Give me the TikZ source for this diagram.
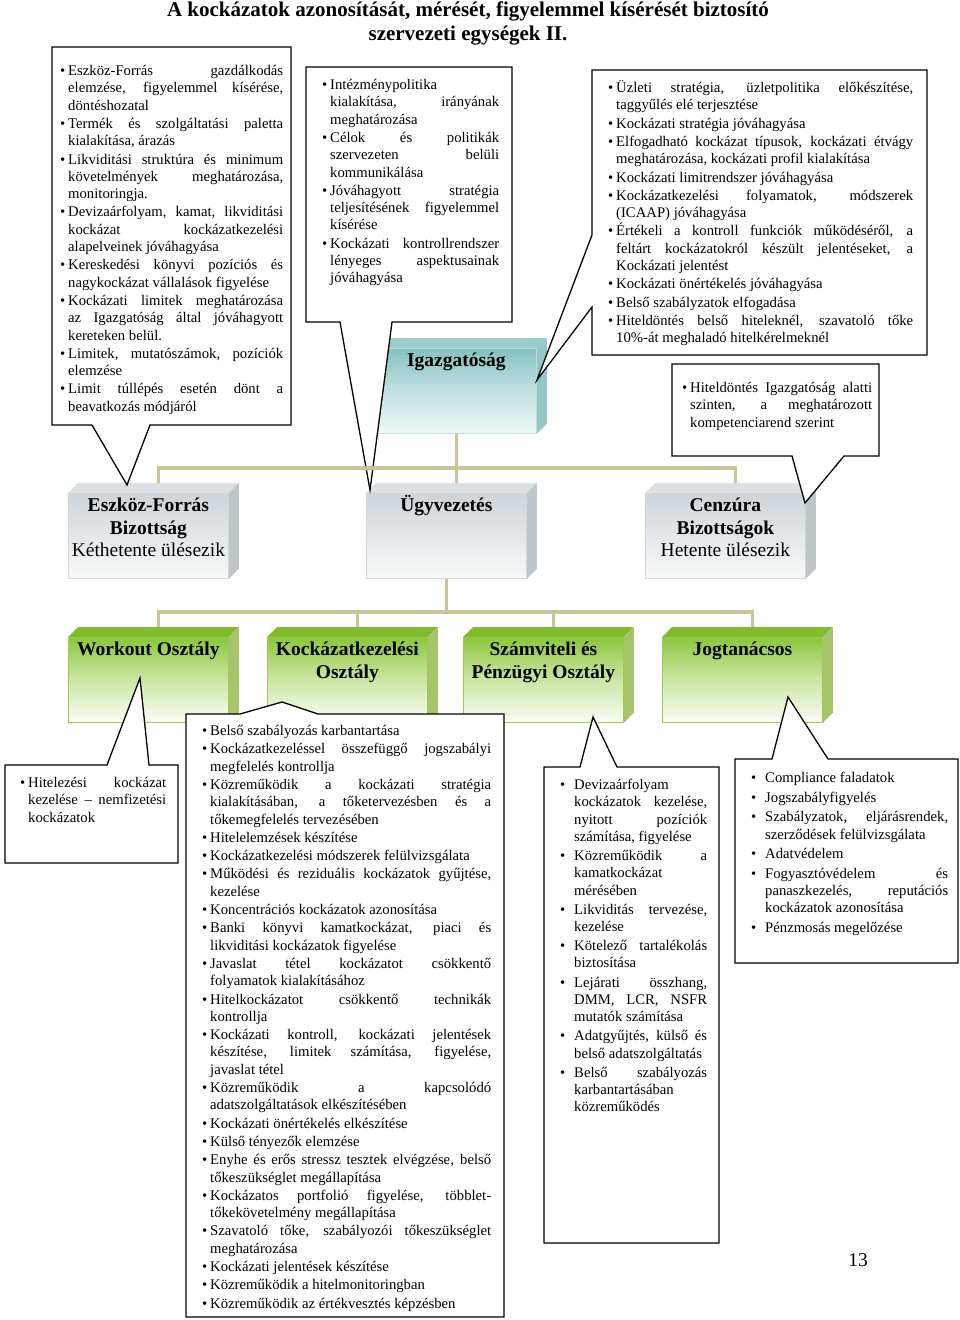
\documentclass[tikz,border=0pt]{standalone}
\usepackage{fontspec}
\setmainfont{Liberation Serif}
\usepackage{xcolor}
\usetikzlibrary{calc}

\definecolor{connline}{HTML}{C8C59A}
\definecolor{grayT}{HTML}{CED4D8}
\definecolor{grayM}{HTML}{E4E7EA}
\definecolor{grayB}{HTML}{F8F9F9}
\definecolor{grayTop}{HTML}{DCE0E3}
\definecolor{graySide}{HTML}{BFC6CA}
\definecolor{grayEdge}{HTML}{D2D7DA}
\definecolor{greenT}{HTML}{8CC63E}
\definecolor{greenM}{HTML}{CCE6A4}
\definecolor{greenB}{HTML}{FBFDF6}
\definecolor{greenTop}{HTML}{80BC2C}
\definecolor{greenSide}{HTML}{A6C46A}
\definecolor{greenEdge}{HTML}{9DCC4E}
\definecolor{tealT}{HTML}{85C1C1}
\definecolor{tealM}{HTML}{C2E1E1}
\definecolor{tealB}{HTML}{EFF8F8}
\definecolor{tealTop}{HTML}{9CCDCD}
\definecolor{tealSide}{HTML}{95C7C7}
\definecolor{tealEdge}{HTML}{BEDFDF}

\newcommand\notefont{\fontsize{14.7}{17.3}\selectfont}
\newcommand\labelfont{\fontsize{19.5}{22.4}\selectfont}
\newcommand\titlefont{\fontsize{21}{24}\selectfont\bfseries}
\newcommand\boxlabel[1]{\parbox[t][82pt][t]{160pt}{\centering\rule{0pt}{17pt}#1}}

% bullet list: left margin, label sep, item sep
\newenvironment{pontok}[3]{%
  \begin{list}{\textbullet}{\setlength{\leftmargin}{#1}\setlength{\labelsep}{#2}%
    \setlength{\labelwidth}{\dimexpr#1-#2\relax}\setlength{\itemsep}{#3}%
    \setlength{\topsep}{0pt}\setlength{\parsep}{0pt}\setlength{\partopsep}{0pt}}}%
  {\end{list}}

\tolerance=10000
\hbadness=10000
\hyphenpenalty=10000
\exhyphenpenalty=10000

\begin{document}
\begin{tikzpicture}[x=1pt, y=-1pt,
    unit/.style={anchor=north west, minimum width=160pt, minimum height=85pt,
      inner xsep=0pt, inner ysep=1.5pt, font=\labelfont, line width=0.8pt},
    graybox/.style={unit, draw=grayEdge, top color=grayT, bottom color=grayB, middle color=grayM},
    greenbox/.style={unit, draw=greenEdge, top color=greenT, bottom color=greenB, middle color=greenM},
    tealbox/.style={unit, draw=tealEdge, top color=tealT, bottom color=tealB, middle color=tealM},
    conn/.style={draw=connline, line width=3.5pt},
    callout/.style={draw=black, fill=white, line width=1.3pt},
    note/.style={anchor=north west, inner sep=0pt, font=\notefont, text width=#1, align=justify}]

\useasboundingbox[fill=white] (0,0) rectangle (960,1320);

\node[font=\titlefont, align=center] (title) at (468,23)
  {A kockázatok azonosítását, mérését, figyelemmel kísérését biztosító\\szervezeti egységek II.};

% szervezeti egysegek
\node[tealbox] (igaz) at (376,348) {\boxlabel{\textbf{Igazgatóság}}};

\node[graybox] (eszb) at (68,493) {\boxlabel{\textbf{Eszköz-Forrás}\\\textbf{Bizottság}\\Kéthetente ülésezik}};
\node[graybox] (ugyv) at (366,493) {\boxlabel{\textbf{Ügyvezetés}}};
\node[graybox] (cenz) at (645,493) {\boxlabel{\textbf{Cenzúra}\\\textbf{Bizottságok}\\Hetente ülésezik}};

\node[greenbox] (workout) at (68,637) {\boxlabel{\textbf{Workout Osztály}}};
\node[greenbox] (kockoszt) at (267,637) {\boxlabel{\textbf{Kockázatkezelési}\\\textbf{Osztály}}};
\node[greenbox] (szamv) at (463,637) {\boxlabel{\textbf{Számviteli és}\\\textbf{Pénzügyi Osztály}}};
\node[greenbox] (jogt) at (662,637) {\boxlabel{\textbf{Jogtanácsos}}};

% teto es oldallap
\foreach \n/\c in {igaz/teal, eszb/gray, ugyv/gray, cenz/gray,
                   workout/green, kockoszt/green, szamv/green, jogt/green} {
  \fill[\c Top] (\n.north west) -- ++(10,-10) -- ($(\n.north east)+(10,-10)$) -- (\n.north east) -- cycle;
  \fill[\c Side] (\n.north east) -- ++(10,-10) -- ($(\n.south east)+(10,-10)$) -- (\n.south east) -- cycle;
  \coordinate (\n-top) at ($(\n.north)+(10,-10)$);
}

% callout dobozok
\draw[callout] (52,47) -- (291,47) -- (291,425) -- (150,425) -- (127,485) -- (92,425) -- (52,425) -- cycle;
\node[note=225pt] (eszbnote) at (58,58) {\begin{pontok}{10pt}{3pt}{1pt}
  \item Eszköz-Forrás gazdálkodás\linebreak elemzése, figyelemmel kísérése,\linebreak döntéshozatal
  \item Termék és szolgáltatási paletta\linebreak kialakítása, árazás
  \item Likviditási struktúra és minimum\linebreak követelmények meghatározása,\linebreak monitoringja.
  \item Devizaárfolyam, kamat, likviditási\linebreak kockázat kockázatkezelési\linebreak alapelveinek jóváhagyása
  \item Kereskedési könyvi pozíciós és\linebreak nagykockázat vállalások figyelése
  \item Kockázati limitek meghatározása\linebreak az Igazgatóság által jóváhagyott\linebreak kereteken belül.
  \item Limitek, mutatószámok, pozíciók\linebreak elemzése
  \item Limit túllépés esetén dönt a\linebreak beavatkozás módjáról
\end{pontok}};

\draw[callout] (306,67) -- (512,67) -- (512,322) -- (392,322) -- (370,490) -- (340,322) -- (306,322) -- cycle;
\node[note=179pt] (igaznote) at (320,72) {\begin{pontok}{10pt}{3pt}{1pt}
  \item Intézménypolitika\linebreak kialakítása, irányának\linebreak meghatározása
  \item Célok és politikák\linebreak szervezeten belüli\linebreak kommunikálása
  \item Jóváhagyott stratégia\linebreak teljesítésének figyelemmel\linebreak kísérése
  \item Kockázati kontrollrendszer\linebreak lényeges aspektusainak\linebreak jóváhagyása
\end{pontok}};

\draw[callout] (592,70) -- (927,70) -- (927,355) -- (592,355) -- (592,307) -- (537,380) -- (592,235) -- cycle;
\node[note=307pt] (uzletnote) at (606,75) {\begin{pontok}{10pt}{3pt}{1pt}
  \item Üzleti stratégia, üzletpolitika előkészítése,\linebreak taggyűlés elé terjesztése
  \item Kockázati stratégia jóváhagyása
  \item Elfogadható kockázat típusok, kockázati étvágy\linebreak meghatározása, kockázati profil kialakítása
  \item Kockázati limitrendszer jóváhagyása
  \item Kockázatkezelési folyamatok, módszerek\linebreak (ICAAP) jóváhagyása
  \item Értékeli a kontroll funkciók működéséről, a\linebreak feltárt kockázatokról készült jelentéseket, a\linebreak Kockázati jelentést
  \item Kockázati önértékelés jóváhagyása
  \item Belső szabályzatok elfogadása
  \item Hiteldöntés belső hiteleknél, szavatoló tőke\linebreak 10\%-át meghaladó hitelkérelmeknél
\end{pontok}};

\draw[callout] (672,364) -- (879,364) -- (879,456) -- (844,456) -- (805,503) -- (792,456) -- (672,456) -- cycle;
\node[note=192pt] (hitnote) at (680,375) {\begin{pontok}{10pt}{3pt}{1pt}
  \item Hiteldöntés Igazgatóság alatti\linebreak szinten, a meghatározott\linebreak kompetenciarend szerint
\end{pontok}};

\draw[callout] (5,765) -- (107,765) -- (140,678) -- (149,765) -- (178,765) -- (178,863) -- (5,863) -- cycle;
\node[note=149pt] (workoutnote) at (17,770) {\begin{pontok}{11pt}{3pt}{1pt}
  \item Hitelezési kockázat\linebreak kezelése – nemfizetési\linebreak kockázatok
\end{pontok}};

\draw[callout] (186,714) -- (240,714) -- (282,702) -- (318,714) -- (504,714) -- (504,1317) -- (186,1317) -- cycle;
\node[note=291pt] (kocknote) at (200,718) {\begin{pontok}{10pt}{3pt}{1pt}
  \item Belső szabályozás karbantartása
  \item Kockázatkezeléssel összefüggő jogszabályi\linebreak megfelelés kontrollja
  \item Közreműködik a kockázati stratégia\linebreak kialakításában, a tőketervezésben és a\linebreak tőkemegfelelés tervezésében
  \item Hitelelemzések készítése
  \item Kockázatkezelési módszerek felülvizsgálata
  \item Működési és reziduális kockázatok gyűjtése,\linebreak kezelése
  \item Koncentrációs kockázatok azonosítása
  \item Banki könyvi kamatkockázat, piaci és\linebreak likviditási kockázatok figyelése
  \item Javaslat tétel kockázatot csökkentő\linebreak folyamatok kialakításához
  \item Hitelkockázatot csökkentő technikák\linebreak kontrollja
  \item Kockázati kontroll, kockázati jelentések\linebreak készítése, limitek számítása, figyelése,\linebreak javaslat tétel
  \item Közreműködik a kapcsolódó\linebreak adatszolgáltatások elkészítésében
  \item Kockázati önértékelés elkészítése
  \item Külső tényezők elemzése
  \item Enyhe és erős stressz tesztek elvégzése, belső\linebreak tőkeszükséglet megállapítása
  \item Kockázatos portfolió figyelése, többlet-\linebreak tőkekövetelmény megállapítása
  \item Szavatoló tőke, szabályozói tőkeszükséglet\linebreak meghatározása
  \item Kockázati jelentések készítése
  \item Közreműködik a hitelmonitoringban
  \item Közreműködik az értékvesztés képzésben
\end{pontok}};

\draw[callout] (544,767) -- (580,767) -- (593,717) -- (617,767) -- (719,767) -- (719,1243) -- (544,1243) -- cycle;
\node[note=155pt] (szamvnote) at (552,772) {\begin{pontok}{22pt}{9pt}{1.8pt}
  \item Devizaárfolyam\linebreak kockázatok kezelése,\linebreak nyitott pozíciók\linebreak számítása, figyelése
  \item Közreműködik a\linebreak kamatkockázat\linebreak mérésében
  \item Likviditás tervezése,\linebreak kezelése
  \item Kötelező tartalékolás\linebreak biztosítása
  \item Lejárati összhang,\linebreak DMM, LCR, NSFR\linebreak mutatók számítása
  \item Adatgyűjtés, külső és\linebreak belső adatszolgáltatás
  \item Belső szabályozás\linebreak karbantartásában\linebreak közreműködés
\end{pontok}};

\draw[callout] (735,759) -- (772,759) -- (788,697) -- (828,759) -- (958,759) -- (958,963) -- (735,963) -- cycle;
\node[note=205pt] (jogtnote) at (743,765) {\begin{pontok}{22pt}{9pt}{2.3pt}
  \item Compliance faladatok
  \item Jogszabályfigyelés
  \item Szabályzatok, eljárásrendek,\linebreak szerződések felülvizsgálata
  \item Adatvédelem
  \item Fogyasztóvédelem és\linebreak panaszkezelés, reputációs\linebreak kockázatok azonosítása
  \item Pénzmosás megelőzése
\end{pontok}};

% osszekotok
\coordinate (bus1) at ($(igaz.south)+(0,34)$);
\coordinate (bus2) at ($(ugyv.south)+(0,33)$);
\draw[conn] (igaz.south) -- (bus1) -- (ugyv-top);
\draw[conn] (eszb-top) |- (bus1) -| (cenz-top);
\draw[conn] (ugyv.south) -- (bus2);
\draw[conn] (workout-top) |- (bus2) -| (jogt-top);
\draw[conn] (kockoszt-top) -- (kockoszt-top |- bus2);
\draw[conn] (szamv-top) -- (szamv-top |- bus2);

\node[font=\labelfont] (oldal) at (858,1260) {13};
\end{tikzpicture}
\end{document}
